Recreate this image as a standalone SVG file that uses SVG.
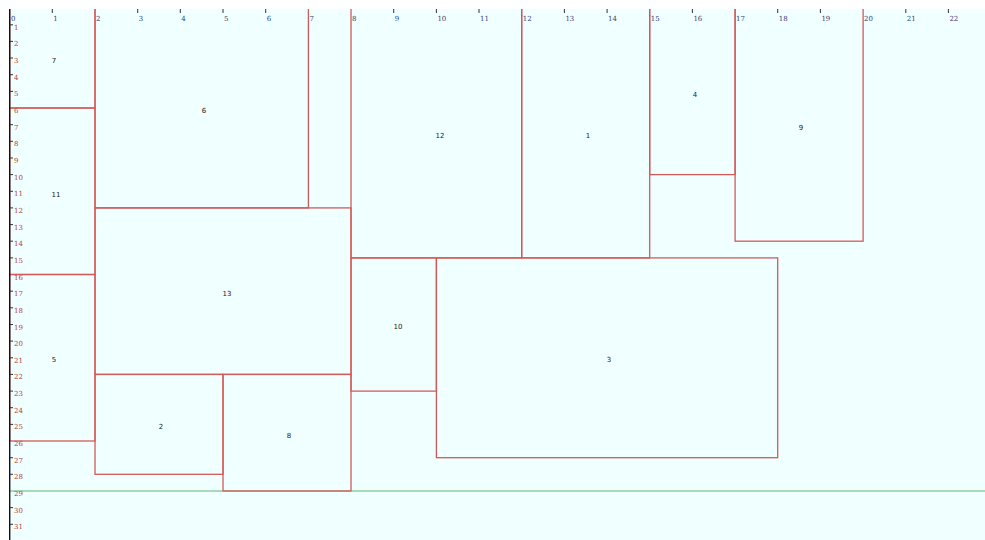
<svg xmlns="http://www.w3.org/2000/svg" width="985" height="540" viewBox="0 0 985 540">
<style>
.r{fill:none;stroke:#d45a5a;stroke-width:1.3}
.lbl{font-family:"DejaVu Sans",sans-serif;font-size:7px;fill:#222;text-anchor:middle}
.tx{font-family:"DejaVu Serif",serif;font-size:7px;fill:#34407a}
.ty{font-family:"DejaVu Serif",serif;font-size:7px;fill:#b84040}
.tk{stroke:#333;stroke-width:1}
</style>
<rect x="0" y="0" width="985" height="540" fill="#ffffff"/>
<rect x="9.7" y="9" width="975.3" height="531" fill="#f0ffff"/>
<g id="connectors">
<line x1="9.7" y1="491" x2="985" y2="491" stroke="#5cb870" stroke-width="1.2"/>
</g>
<g id="n7"><rect class="r" x="9.7" y="7" width="85.3" height="101"/><text class="lbl" x="54" y="63">7</text></g>
<g id="n11"><rect class="r" x="9.7" y="108" width="85.3" height="166.5"/><text class="lbl" x="56" y="197">11</text></g>
<g id="n5"><rect class="r" x="9.7" y="274.5" width="85.3" height="166.5"/><text class="lbl" x="54" y="362">5</text></g>
<g id="n6"><rect class="r" x="95" y="7" width="213.4" height="200.9"/><text class="lbl" x="204" y="113">6</text></g>
<g id="n13"><rect class="r" x="95" y="207.9" width="256" height="166.5"/><text class="lbl" x="227" y="296">13</text></g>
<g id="n2"><rect class="r" x="95" y="374.4" width="128" height="99.9"/><text class="lbl" x="161" y="429">2</text></g>
<g id="n8"><rect class="r" x="223" y="374.4" width="128" height="116.6"/><text class="lbl" x="289" y="438">8</text></g>
<g id="n12"><rect class="r" x="351" y="7" width="170.7" height="250.9"/><text class="lbl" x="440" y="138">12</text></g>
<g id="n1"><rect class="r" x="521.7" y="7" width="128" height="250.9"/><text class="lbl" x="588" y="138">1</text></g>
<g id="n4"><rect class="r" x="649.7" y="7" width="85.4" height="167.6"/><text class="lbl" x="695" y="97">4</text></g>
<g id="n9"><rect class="r" x="735.1" y="7" width="128" height="234.2"/><text class="lbl" x="801" y="130">9</text></g>
<g id="n10"><rect class="r" x="351" y="257.9" width="85.4" height="133.2"/><text class="lbl" x="398" y="329">10</text></g>
<g id="n3"><rect class="r" x="436.4" y="257.9" width="341.3" height="199.8"/><text class="lbl" x="609" y="362">3</text></g>
<rect x="0" y="0" width="985" height="9" fill="#ffffff"/>
<rect x="0" y="0" width="9" height="540" fill="#ffffff"/>
<line x1="9.7" y1="9" x2="9.7" y2="540" stroke="#111" stroke-width="1.4"/>
<g id="axis-x">
<g class="tk">
<line x1="52.3" y1="9" x2="52.3" y2="13"/><line x1="137.7" y1="9" x2="137.7" y2="13"/><line x1="180.3" y1="9" x2="180.3" y2="13"/><line x1="223" y1="9" x2="223" y2="13"/><line x1="265.7" y1="9" x2="265.7" y2="13"/><line x1="393.7" y1="9" x2="393.7" y2="13"/><line x1="436.4" y1="9" x2="436.4" y2="13"/><line x1="479" y1="9" x2="479" y2="13"/><line x1="564.4" y1="9" x2="564.4" y2="13"/><line x1="607.1" y1="9" x2="607.1" y2="13"/><line x1="692.4" y1="9" x2="692.4" y2="13"/><line x1="777.7" y1="9" x2="777.7" y2="13"/><line x1="820.4" y1="9" x2="820.4" y2="13"/><line x1="905.8" y1="9" x2="905.8" y2="13"/><line x1="948.4" y1="9" x2="948.4" y2="13"/>
</g>
<text class="tx" x="11" y="21">0</text><text class="tx" x="53.3" y="21">1</text><text class="tx" x="96" y="21">2</text><text class="tx" x="138.7" y="21">3</text><text class="tx" x="181.3" y="21">4</text><text class="tx" x="224" y="21">5</text><text class="tx" x="266.7" y="21">6</text><text class="tx" x="309.4" y="21">7</text><text class="tx" x="352" y="21">8</text><text class="tx" x="394.7" y="21">9</text><text class="tx" x="437.4" y="21">10</text><text class="tx" x="480" y="21">11</text><text class="tx" x="522.7" y="21">12</text><text class="tx" x="565.4" y="21">13</text><text class="tx" x="608.1" y="21">14</text><text class="tx" x="650.7" y="21">15</text><text class="tx" x="693.4" y="21">16</text><text class="tx" x="736.1" y="21">17</text><text class="tx" x="778.7" y="21">18</text><text class="tx" x="821.4" y="21">19</text><text class="tx" x="864.1" y="21">20</text><text class="tx" x="906.8" y="21">21</text><text class="tx" x="949.4" y="21">22</text>
</g>
<g id="axis-y">
<g class="tk">
<line x1="10" y1="24.8" x2="13" y2="24.8"/><line x1="10" y1="41.4" x2="13" y2="41.4"/><line x1="10" y1="58" x2="13" y2="58"/><line x1="10" y1="74.7" x2="13" y2="74.7"/><line x1="10" y1="91.4" x2="13" y2="91.4"/><line x1="10" y1="124.7" x2="13" y2="124.7"/><line x1="10" y1="141.3" x2="13" y2="141.3"/><line x1="10" y1="158" x2="13" y2="158"/><line x1="10" y1="174.6" x2="13" y2="174.6"/><line x1="10" y1="191.3" x2="13" y2="191.3"/><line x1="10" y1="207.9" x2="13" y2="207.9"/><line x1="10" y1="224.6" x2="13" y2="224.6"/><line x1="10" y1="241.2" x2="13" y2="241.2"/><line x1="10" y1="257.9" x2="13" y2="257.9"/><line x1="10" y1="291.2" x2="13" y2="291.2"/><line x1="10" y1="307.8" x2="13" y2="307.8"/><line x1="10" y1="324.5" x2="13" y2="324.5"/><line x1="10" y1="341.1" x2="13" y2="341.1"/><line x1="10" y1="357.8" x2="13" y2="357.8"/><line x1="10" y1="374.4" x2="13" y2="374.4"/><line x1="10" y1="391.1" x2="13" y2="391.1"/><line x1="10" y1="407.7" x2="13" y2="407.7"/><line x1="10" y1="424.4" x2="13" y2="424.4"/><line x1="10" y1="457.7" x2="13" y2="457.7"/><line x1="10" y1="474.3" x2="13" y2="474.3"/><line x1="10" y1="507.6" x2="13" y2="507.6"/><line x1="10" y1="524.3" x2="13" y2="524.3"/>
</g>
<text class="ty" x="14" y="29.8">1</text><text class="ty" x="14" y="46.4">2</text><text class="ty" x="14" y="63">3</text><text class="ty" x="14" y="79.7">4</text><text class="ty" x="14" y="96.4">5</text><text class="ty" x="14" y="113">6</text><text class="ty" x="14" y="129.7">7</text><text class="ty" x="14" y="146.3">8</text><text class="ty" x="14" y="163">9</text><text class="ty" x="14" y="179.6">10</text><text class="ty" x="14" y="196.3">11</text><text class="ty" x="14" y="212.9">12</text><text class="ty" x="14" y="229.6">13</text><text class="ty" x="14" y="246.2">14</text><text class="ty" x="14" y="262.9">15</text><text class="ty" x="14" y="279.5">16</text><text class="ty" x="14" y="296.2">17</text><text class="ty" x="14" y="312.8">18</text><text class="ty" x="14" y="329.5">19</text><text class="ty" x="14" y="346.1">20</text><text class="ty" x="14" y="362.8">21</text><text class="ty" x="14" y="379.4">22</text><text class="ty" x="14" y="396.1">23</text><text class="ty" x="14" y="412.7">24</text><text class="ty" x="14" y="429.4">25</text><text class="ty" x="14" y="446">26</text><text class="ty" x="14" y="462.7">27</text><text class="ty" x="14" y="479.3">28</text><text class="ty" x="14" y="496">29</text><text class="ty" x="14" y="512.6">30</text><text class="ty" x="14" y="529.3">31</text>
</g>
</svg>
